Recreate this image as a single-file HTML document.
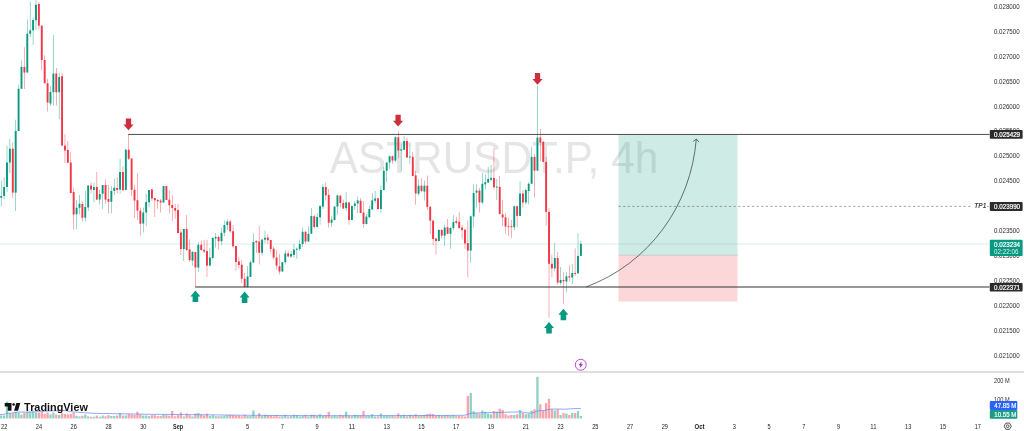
<!DOCTYPE html>
<html lang="en"><head><meta charset="utf-8"><title>ASTRUSDT.P 4h chart</title>
<style>html,body{margin:0;padding:0;background:#fff;overflow:hidden}body{width:1024px;height:431px}svg{display:block;font-family:"Liberation Sans",sans-serif}</style></head><body>
<svg width="1024" height="431" viewBox="0 0 1024 431">
<rect width="1024" height="431" fill="#fff"/>
<text x="494" y="172.5" font-size="44.4" text-anchor="middle" fill="#e5e5e5" textLength="328.4" lengthAdjust="spacingAndGlyphs">ASTRUSDT.P, 4h</text>
<rect x="0" y="371.45" width="1024" height="1.1" fill="#c6c6c6"/>
<g id="vol">
<rect x="0.05" y="415.50" width="2.3" height="3.00" fill="rgba(8,153,129,0.45)"/>
<rect x="2.95" y="415.50" width="2.3" height="3.00" fill="rgba(8,153,129,0.45)"/>
<rect x="5.85" y="401.50" width="2.3" height="17.00" fill="rgba(8,153,129,0.45)"/>
<rect x="8.75" y="413.25" width="2.3" height="5.25" fill="rgba(8,153,129,0.45)"/>
<rect x="11.65" y="413.25" width="2.3" height="5.25" fill="rgba(242,54,69,0.45)"/>
<rect x="14.54" y="412.00" width="2.3" height="6.50" fill="rgba(8,153,129,0.45)"/>
<rect x="17.44" y="412.60" width="2.3" height="5.90" fill="rgba(8,153,129,0.45)"/>
<rect x="20.34" y="414.50" width="2.3" height="4.00" fill="rgba(8,153,129,0.45)"/>
<rect x="23.24" y="412.60" width="2.3" height="5.90" fill="rgba(242,54,69,0.45)"/>
<rect x="26.14" y="412.00" width="2.3" height="6.50" fill="rgba(8,153,129,0.45)"/>
<rect x="29.04" y="412.00" width="2.3" height="6.50" fill="rgba(8,153,129,0.45)"/>
<rect x="31.94" y="411.50" width="2.3" height="7.00" fill="rgba(8,153,129,0.45)"/>
<rect x="34.83" y="412.60" width="2.3" height="5.90" fill="rgba(8,153,129,0.45)"/>
<rect x="37.73" y="412.60" width="2.3" height="5.90" fill="rgba(242,54,69,0.45)"/>
<rect x="40.63" y="412.00" width="2.3" height="6.50" fill="rgba(242,54,69,0.45)"/>
<rect x="43.53" y="413.90" width="2.3" height="4.60" fill="rgba(242,54,69,0.45)"/>
<rect x="46.43" y="412.60" width="2.3" height="5.90" fill="rgba(242,54,69,0.45)"/>
<rect x="49.33" y="414.50" width="2.3" height="4.00" fill="rgba(8,153,129,0.45)"/>
<rect x="52.22" y="412.60" width="2.3" height="5.90" fill="rgba(8,153,129,0.45)"/>
<rect x="55.12" y="414.50" width="2.3" height="4.00" fill="rgba(242,54,69,0.45)"/>
<rect x="58.02" y="415.10" width="2.3" height="3.40" fill="rgba(8,153,129,0.45)"/>
<rect x="60.92" y="413.25" width="2.3" height="5.25" fill="rgba(242,54,69,0.45)"/>
<rect x="63.82" y="413.90" width="2.3" height="4.60" fill="rgba(242,54,69,0.45)"/>
<rect x="66.72" y="414.50" width="2.3" height="4.00" fill="rgba(242,54,69,0.45)"/>
<rect x="69.62" y="413.90" width="2.3" height="4.60" fill="rgba(242,54,69,0.45)"/>
<rect x="72.51" y="412.60" width="2.3" height="5.90" fill="rgba(242,54,69,0.45)"/>
<rect x="75.41" y="415.75" width="2.3" height="2.75" fill="rgba(8,153,129,0.45)"/>
<rect x="78.31" y="416.40" width="2.3" height="2.10" fill="rgba(8,153,129,0.45)"/>
<rect x="81.21" y="415.75" width="2.3" height="2.75" fill="rgba(242,54,69,0.45)"/>
<rect x="84.11" y="414.50" width="2.3" height="4.00" fill="rgba(8,153,129,0.45)"/>
<rect x="87.01" y="416.40" width="2.3" height="2.10" fill="rgba(8,153,129,0.45)"/>
<rect x="89.90" y="416.75" width="2.3" height="1.75" fill="rgba(242,54,69,0.45)"/>
<rect x="92.80" y="416.75" width="2.3" height="1.75" fill="rgba(8,153,129,0.45)"/>
<rect x="95.70" y="415.50" width="2.3" height="3.00" fill="rgba(242,54,69,0.45)"/>
<rect x="98.60" y="416.75" width="2.3" height="1.75" fill="rgba(8,153,129,0.45)"/>
<rect x="101.50" y="415.50" width="2.3" height="3.00" fill="rgba(8,153,129,0.45)"/>
<rect x="104.40" y="416.40" width="2.3" height="2.10" fill="rgba(242,54,69,0.45)"/>
<rect x="107.30" y="415.10" width="2.3" height="3.40" fill="rgba(242,54,69,0.45)"/>
<rect x="110.19" y="416.00" width="2.3" height="2.50" fill="rgba(8,153,129,0.45)"/>
<rect x="113.09" y="416.00" width="2.3" height="2.50" fill="rgba(8,153,129,0.45)"/>
<rect x="115.99" y="415.50" width="2.3" height="3.00" fill="rgba(242,54,69,0.45)"/>
<rect x="118.89" y="413.00" width="2.3" height="5.50" fill="rgba(8,153,129,0.45)"/>
<rect x="121.79" y="415.50" width="2.3" height="3.00" fill="rgba(242,54,69,0.45)"/>
<rect x="124.69" y="415.50" width="2.3" height="3.00" fill="rgba(8,153,129,0.45)"/>
<rect x="127.59" y="413.90" width="2.3" height="4.60" fill="rgba(242,54,69,0.45)"/>
<rect x="130.48" y="414.50" width="2.3" height="4.00" fill="rgba(242,54,69,0.45)"/>
<rect x="133.38" y="415.00" width="2.3" height="3.50" fill="rgba(242,54,69,0.45)"/>
<rect x="136.28" y="411.75" width="2.3" height="6.75" fill="rgba(242,54,69,0.45)"/>
<rect x="139.18" y="414.50" width="2.3" height="4.00" fill="rgba(242,54,69,0.45)"/>
<rect x="142.08" y="415.50" width="2.3" height="3.00" fill="rgba(8,153,129,0.45)"/>
<rect x="144.98" y="415.50" width="2.3" height="3.00" fill="rgba(8,153,129,0.45)"/>
<rect x="147.87" y="416.10" width="2.3" height="2.40" fill="rgba(8,153,129,0.45)"/>
<rect x="150.77" y="415.20" width="2.3" height="3.30" fill="rgba(242,54,69,0.45)"/>
<rect x="153.67" y="415.20" width="2.3" height="3.30" fill="rgba(242,54,69,0.45)"/>
<rect x="156.57" y="416.10" width="2.3" height="2.40" fill="rgba(242,54,69,0.45)"/>
<rect x="159.47" y="415.90" width="2.3" height="2.60" fill="rgba(242,54,69,0.45)"/>
<rect x="162.37" y="414.40" width="2.3" height="4.10" fill="rgba(8,153,129,0.45)"/>
<rect x="165.27" y="415.20" width="2.3" height="3.30" fill="rgba(242,54,69,0.45)"/>
<rect x="168.16" y="415.60" width="2.3" height="2.90" fill="rgba(242,54,69,0.45)"/>
<rect x="171.06" y="411.00" width="2.3" height="7.50" fill="rgba(242,54,69,0.45)"/>
<rect x="173.96" y="416.30" width="2.3" height="2.20" fill="rgba(242,54,69,0.45)"/>
<rect x="176.86" y="415.20" width="2.3" height="3.30" fill="rgba(242,54,69,0.45)"/>
<rect x="179.76" y="412.50" width="2.3" height="6.00" fill="rgba(242,54,69,0.45)"/>
<rect x="182.66" y="416.50" width="2.3" height="2.00" fill="rgba(8,153,129,0.45)"/>
<rect x="185.56" y="413.50" width="2.3" height="5.00" fill="rgba(242,54,69,0.45)"/>
<rect x="188.45" y="415.20" width="2.3" height="3.30" fill="rgba(242,54,69,0.45)"/>
<rect x="191.35" y="416.50" width="2.3" height="2.00" fill="rgba(8,153,129,0.45)"/>
<rect x="194.25" y="413.50" width="2.3" height="5.00" fill="rgba(242,54,69,0.45)"/>
<rect x="197.15" y="413.10" width="2.3" height="5.40" fill="rgba(8,153,129,0.45)"/>
<rect x="200.05" y="414.80" width="2.3" height="3.70" fill="rgba(242,54,69,0.45)"/>
<rect x="202.95" y="415.60" width="2.3" height="2.90" fill="rgba(242,54,69,0.45)"/>
<rect x="205.84" y="413.50" width="2.3" height="5.00" fill="rgba(242,54,69,0.45)"/>
<rect x="208.74" y="415.90" width="2.3" height="2.60" fill="rgba(8,153,129,0.45)"/>
<rect x="211.64" y="415.20" width="2.3" height="3.30" fill="rgba(8,153,129,0.45)"/>
<rect x="214.54" y="416.10" width="2.3" height="2.40" fill="rgba(8,153,129,0.45)"/>
<rect x="217.44" y="416.10" width="2.3" height="2.40" fill="rgba(242,54,69,0.45)"/>
<rect x="220.34" y="416.30" width="2.3" height="2.20" fill="rgba(8,153,129,0.45)"/>
<rect x="223.24" y="415.60" width="2.3" height="2.90" fill="rgba(8,153,129,0.45)"/>
<rect x="226.13" y="415.20" width="2.3" height="3.30" fill="rgba(8,153,129,0.45)"/>
<rect x="229.03" y="414.80" width="2.3" height="3.70" fill="rgba(242,54,69,0.45)"/>
<rect x="231.93" y="415.20" width="2.3" height="3.30" fill="rgba(242,54,69,0.45)"/>
<rect x="234.83" y="415.60" width="2.3" height="2.90" fill="rgba(242,54,69,0.45)"/>
<rect x="237.73" y="415.60" width="2.3" height="2.90" fill="rgba(242,54,69,0.45)"/>
<rect x="240.63" y="416.30" width="2.3" height="2.20" fill="rgba(242,54,69,0.45)"/>
<rect x="243.53" y="414.80" width="2.3" height="3.70" fill="rgba(242,54,69,0.45)"/>
<rect x="246.42" y="416.10" width="2.3" height="2.40" fill="rgba(8,153,129,0.45)"/>
<rect x="249.32" y="416.10" width="2.3" height="2.40" fill="rgba(8,153,129,0.45)"/>
<rect x="252.22" y="410.50" width="2.3" height="8.00" fill="rgba(8,153,129,0.45)"/>
<rect x="255.12" y="416.30" width="2.3" height="2.20" fill="rgba(242,54,69,0.45)"/>
<rect x="258.02" y="413.25" width="2.3" height="5.25" fill="rgba(242,54,69,0.45)"/>
<rect x="260.92" y="416.10" width="2.3" height="2.40" fill="rgba(8,153,129,0.45)"/>
<rect x="263.82" y="414.80" width="2.3" height="3.70" fill="rgba(8,153,129,0.45)"/>
<rect x="266.71" y="415.20" width="2.3" height="3.30" fill="rgba(242,54,69,0.45)"/>
<rect x="269.61" y="415.60" width="2.3" height="2.90" fill="rgba(242,54,69,0.45)"/>
<rect x="272.51" y="416.30" width="2.3" height="2.20" fill="rgba(242,54,69,0.45)"/>
<rect x="275.41" y="415.10" width="2.3" height="3.40" fill="rgba(242,54,69,0.45)"/>
<rect x="278.31" y="416.50" width="2.3" height="2.00" fill="rgba(242,54,69,0.45)"/>
<rect x="281.21" y="416.30" width="2.3" height="2.20" fill="rgba(8,153,129,0.45)"/>
<rect x="284.10" y="414.80" width="2.3" height="3.70" fill="rgba(8,153,129,0.45)"/>
<rect x="287.00" y="416.50" width="2.3" height="2.00" fill="rgba(242,54,69,0.45)"/>
<rect x="289.90" y="416.10" width="2.3" height="2.40" fill="rgba(8,153,129,0.45)"/>
<rect x="292.80" y="414.80" width="2.3" height="3.70" fill="rgba(8,153,129,0.45)"/>
<rect x="295.70" y="415.20" width="2.3" height="3.30" fill="rgba(8,153,129,0.45)"/>
<rect x="298.60" y="416.50" width="2.3" height="2.00" fill="rgba(8,153,129,0.45)"/>
<rect x="301.50" y="415.90" width="2.3" height="2.60" fill="rgba(8,153,129,0.45)"/>
<rect x="304.39" y="414.80" width="2.3" height="3.70" fill="rgba(242,54,69,0.45)"/>
<rect x="307.29" y="416.50" width="2.3" height="2.00" fill="rgba(8,153,129,0.45)"/>
<rect x="310.19" y="414.80" width="2.3" height="3.70" fill="rgba(8,153,129,0.45)"/>
<rect x="313.09" y="414.80" width="2.3" height="3.70" fill="rgba(242,54,69,0.45)"/>
<rect x="315.99" y="415.90" width="2.3" height="2.60" fill="rgba(8,153,129,0.45)"/>
<rect x="318.89" y="414.25" width="2.3" height="4.25" fill="rgba(8,153,129,0.45)"/>
<rect x="321.79" y="415.60" width="2.3" height="2.90" fill="rgba(8,153,129,0.45)"/>
<rect x="324.68" y="415.20" width="2.3" height="3.30" fill="rgba(242,54,69,0.45)"/>
<rect x="327.58" y="411.75" width="2.3" height="6.75" fill="rgba(242,54,69,0.45)"/>
<rect x="330.48" y="416.30" width="2.3" height="2.20" fill="rgba(8,153,129,0.45)"/>
<rect x="333.38" y="415.60" width="2.3" height="2.90" fill="rgba(8,153,129,0.45)"/>
<rect x="336.28" y="416.30" width="2.3" height="2.20" fill="rgba(8,153,129,0.45)"/>
<rect x="339.18" y="414.80" width="2.3" height="3.70" fill="rgba(242,54,69,0.45)"/>
<rect x="342.07" y="415.60" width="2.3" height="2.90" fill="rgba(242,54,69,0.45)"/>
<rect x="344.97" y="411.75" width="2.3" height="6.75" fill="rgba(8,153,129,0.45)"/>
<rect x="347.87" y="415.60" width="2.3" height="2.90" fill="rgba(242,54,69,0.45)"/>
<rect x="350.77" y="416.30" width="2.3" height="2.20" fill="rgba(8,153,129,0.45)"/>
<rect x="353.67" y="414.80" width="2.3" height="3.70" fill="rgba(8,153,129,0.45)"/>
<rect x="356.57" y="415.20" width="2.3" height="3.30" fill="rgba(8,153,129,0.45)"/>
<rect x="359.47" y="415.60" width="2.3" height="2.90" fill="rgba(242,54,69,0.45)"/>
<rect x="362.36" y="411.00" width="2.3" height="7.50" fill="rgba(242,54,69,0.45)"/>
<rect x="365.26" y="416.10" width="2.3" height="2.40" fill="rgba(8,153,129,0.45)"/>
<rect x="368.16" y="415.90" width="2.3" height="2.60" fill="rgba(8,153,129,0.45)"/>
<rect x="371.06" y="414.25" width="2.3" height="4.25" fill="rgba(8,153,129,0.45)"/>
<rect x="373.96" y="416.50" width="2.3" height="2.00" fill="rgba(8,153,129,0.45)"/>
<rect x="376.86" y="416.50" width="2.3" height="2.00" fill="rgba(242,54,69,0.45)"/>
<rect x="379.76" y="413.50" width="2.3" height="5.00" fill="rgba(8,153,129,0.45)"/>
<rect x="382.65" y="416.10" width="2.3" height="2.40" fill="rgba(8,153,129,0.45)"/>
<rect x="385.55" y="415.60" width="2.3" height="2.90" fill="rgba(8,153,129,0.45)"/>
<rect x="388.45" y="416.10" width="2.3" height="2.40" fill="rgba(8,153,129,0.45)"/>
<rect x="391.35" y="415.90" width="2.3" height="2.60" fill="rgba(242,54,69,0.45)"/>
<rect x="394.25" y="416.30" width="2.3" height="2.20" fill="rgba(8,153,129,0.45)"/>
<rect x="397.15" y="413.50" width="2.3" height="5.00" fill="rgba(242,54,69,0.45)"/>
<rect x="400.04" y="415.60" width="2.3" height="2.90" fill="rgba(8,153,129,0.45)"/>
<rect x="402.94" y="414.80" width="2.3" height="3.70" fill="rgba(8,153,129,0.45)"/>
<rect x="405.84" y="416.30" width="2.3" height="2.20" fill="rgba(242,54,69,0.45)"/>
<rect x="408.74" y="414.80" width="2.3" height="3.70" fill="rgba(8,153,129,0.45)"/>
<rect x="411.64" y="415.90" width="2.3" height="2.60" fill="rgba(242,54,69,0.45)"/>
<rect x="414.54" y="414.25" width="2.3" height="4.25" fill="rgba(242,54,69,0.45)"/>
<rect x="417.44" y="415.60" width="2.3" height="2.90" fill="rgba(8,153,129,0.45)"/>
<rect x="420.33" y="415.20" width="2.3" height="3.30" fill="rgba(242,54,69,0.45)"/>
<rect x="423.23" y="414.80" width="2.3" height="3.70" fill="rgba(8,153,129,0.45)"/>
<rect x="426.13" y="414.00" width="2.3" height="4.50" fill="rgba(242,54,69,0.45)"/>
<rect x="429.03" y="413.50" width="2.3" height="5.00" fill="rgba(242,54,69,0.45)"/>
<rect x="431.93" y="414.00" width="2.3" height="4.50" fill="rgba(242,54,69,0.45)"/>
<rect x="434.83" y="415.60" width="2.3" height="2.90" fill="rgba(242,54,69,0.45)"/>
<rect x="437.73" y="415.20" width="2.3" height="3.30" fill="rgba(8,153,129,0.45)"/>
<rect x="440.62" y="415.90" width="2.3" height="2.60" fill="rgba(242,54,69,0.45)"/>
<rect x="443.52" y="415.20" width="2.3" height="3.30" fill="rgba(8,153,129,0.45)"/>
<rect x="446.42" y="415.20" width="2.3" height="3.30" fill="rgba(242,54,69,0.45)"/>
<rect x="449.32" y="415.60" width="2.3" height="2.90" fill="rgba(8,153,129,0.45)"/>
<rect x="452.22" y="415.20" width="2.3" height="3.30" fill="rgba(8,153,129,0.45)"/>
<rect x="455.12" y="416.10" width="2.3" height="2.40" fill="rgba(242,54,69,0.45)"/>
<rect x="458.01" y="415.90" width="2.3" height="2.60" fill="rgba(242,54,69,0.45)"/>
<rect x="460.91" y="416.30" width="2.3" height="2.20" fill="rgba(242,54,69,0.45)"/>
<rect x="463.81" y="416.50" width="2.3" height="2.00" fill="rgba(242,54,69,0.45)"/>
<rect x="466.71" y="396.00" width="2.3" height="22.50" fill="rgba(242,54,69,0.45)"/>
<rect x="469.61" y="393.00" width="2.3" height="25.50" fill="rgba(8,153,129,0.45)"/>
<rect x="472.51" y="411.25" width="2.3" height="7.25" fill="rgba(8,153,129,0.45)"/>
<rect x="475.41" y="413.00" width="2.3" height="5.50" fill="rgba(8,153,129,0.45)"/>
<rect x="478.30" y="413.50" width="2.3" height="5.00" fill="rgba(242,54,69,0.45)"/>
<rect x="481.20" y="410.50" width="2.3" height="8.00" fill="rgba(8,153,129,0.45)"/>
<rect x="484.10" y="411.75" width="2.3" height="6.75" fill="rgba(8,153,129,0.45)"/>
<rect x="487.00" y="413.50" width="2.3" height="5.00" fill="rgba(8,153,129,0.45)"/>
<rect x="489.90" y="414.25" width="2.3" height="4.25" fill="rgba(8,153,129,0.45)"/>
<rect x="492.80" y="411.00" width="2.3" height="7.50" fill="rgba(242,54,69,0.45)"/>
<rect x="495.69" y="411.75" width="2.3" height="6.75" fill="rgba(8,153,129,0.45)"/>
<rect x="498.59" y="408.75" width="2.3" height="9.75" fill="rgba(242,54,69,0.45)"/>
<rect x="501.49" y="410.00" width="2.3" height="8.50" fill="rgba(242,54,69,0.45)"/>
<rect x="504.39" y="414.25" width="2.3" height="4.25" fill="rgba(242,54,69,0.45)"/>
<rect x="507.29" y="415.50" width="2.3" height="3.00" fill="rgba(242,54,69,0.45)"/>
<rect x="510.19" y="415.00" width="2.3" height="3.50" fill="rgba(242,54,69,0.45)"/>
<rect x="513.09" y="415.00" width="2.3" height="3.50" fill="rgba(8,153,129,0.45)"/>
<rect x="515.98" y="414.25" width="2.3" height="4.25" fill="rgba(242,54,69,0.45)"/>
<rect x="518.88" y="410.00" width="2.3" height="8.50" fill="rgba(8,153,129,0.45)"/>
<rect x="521.78" y="413.00" width="2.3" height="5.50" fill="rgba(242,54,69,0.45)"/>
<rect x="524.68" y="414.25" width="2.3" height="4.25" fill="rgba(8,153,129,0.45)"/>
<rect x="527.58" y="413.50" width="2.3" height="5.00" fill="rgba(8,153,129,0.45)"/>
<rect x="530.48" y="410.50" width="2.3" height="8.00" fill="rgba(8,153,129,0.45)"/>
<rect x="533.38" y="409.25" width="2.3" height="9.25" fill="rgba(242,54,69,0.45)"/>
<rect x="536.27" y="376.75" width="2.3" height="41.75" fill="rgba(8,153,129,0.45)"/>
<rect x="539.17" y="404.25" width="2.3" height="14.25" fill="rgba(242,54,69,0.45)"/>
<rect x="542.07" y="411.00" width="2.3" height="7.50" fill="rgba(242,54,69,0.45)"/>
<rect x="544.97" y="403.00" width="2.3" height="15.50" fill="rgba(242,54,69,0.45)"/>
<rect x="547.87" y="398.75" width="2.3" height="19.75" fill="rgba(242,54,69,0.45)"/>
<rect x="550.77" y="409.25" width="2.3" height="9.25" fill="rgba(242,54,69,0.45)"/>
<rect x="553.66" y="410.50" width="2.3" height="8.00" fill="rgba(8,153,129,0.45)"/>
<rect x="556.56" y="409.25" width="2.3" height="9.25" fill="rgba(242,54,69,0.45)"/>
<rect x="559.46" y="415.00" width="2.3" height="3.50" fill="rgba(8,153,129,0.45)"/>
<rect x="562.36" y="413.00" width="2.3" height="5.50" fill="rgba(242,54,69,0.45)"/>
<rect x="565.26" y="413.50" width="2.3" height="5.00" fill="rgba(8,153,129,0.45)"/>
<rect x="568.16" y="415.00" width="2.3" height="3.50" fill="rgba(242,54,69,0.45)"/>
<rect x="571.06" y="413.00" width="2.3" height="5.50" fill="rgba(8,153,129,0.45)"/>
<rect x="573.95" y="413.00" width="2.3" height="5.50" fill="rgba(242,54,69,0.45)"/>
<rect x="576.85" y="411.00" width="2.3" height="7.50" fill="rgba(8,153,129,0.45)"/>
<rect x="579.75" y="416.00" width="2.3" height="2.50" fill="rgba(8,153,129,0.45)"/>
</g>
<polyline fill="none" stroke="#6384f6" stroke-width="0.7" points="0,414.6 5,414.2 5.8,413.3 11,413.2 17,412.1 30,412 40,411.6 50,411 60,410.5 66,410.6 72,411.8 80,412.4 94,413.3 150,414.3 200,414.7 240,415.2 288,415.6 350,415.7 448,415.4 464,415.3 467,414.6 471,413.2 480,412.8 500,412.4 521,411.9 526,412.8 532,413 536,411.5 538,410.9 545,410.4 549.6,409.2 556,409 565,409.2 575,408.6 580.8,408.4"/>
<line x1="0" y1="244.1" x2="989" y2="244.1" stroke="#089981" stroke-opacity="0.36" stroke-width="0.55" stroke-dasharray="0.75 0.25"/>
<g id="candles">
<rect x="0.95" y="180.40" width="0.5" height="26.10" fill="#089981" fill-opacity="0.8"/>
<rect x="0.25" y="196.00" width="1.9" height="1.75" fill="#089981"/>
<rect x="3.85" y="177.50" width="0.5" height="22.10" fill="#089981" fill-opacity="0.8"/>
<rect x="3.15" y="187.00" width="1.9" height="9.00" fill="#089981"/>
<rect x="6.75" y="145.60" width="0.5" height="46.40" fill="#089981" fill-opacity="0.8"/>
<rect x="6.05" y="162.50" width="1.9" height="24.50" fill="#089981"/>
<rect x="9.65" y="139.00" width="0.5" height="34.00" fill="#089981" fill-opacity="0.8"/>
<rect x="8.95" y="148.75" width="1.9" height="13.75" fill="#089981"/>
<rect x="12.55" y="142.50" width="0.5" height="55.25" fill="#f23645" fill-opacity="0.8"/>
<rect x="11.85" y="148.75" width="1.9" height="43.85" fill="#f23645"/>
<rect x="15.44" y="119.75" width="0.5" height="91.25" fill="#089981" fill-opacity="0.8"/>
<rect x="14.74" y="131.00" width="1.9" height="61.60" fill="#089981"/>
<rect x="18.34" y="84.75" width="0.5" height="46.25" fill="#089981" fill-opacity="0.8"/>
<rect x="17.64" y="88.75" width="1.9" height="42.25" fill="#089981"/>
<rect x="21.24" y="60.40" width="0.5" height="28.35" fill="#089981" fill-opacity="0.8"/>
<rect x="20.54" y="67.00" width="1.9" height="21.75" fill="#089981"/>
<rect x="24.14" y="47.25" width="0.5" height="41.75" fill="#f23645" fill-opacity="0.8"/>
<rect x="23.44" y="67.00" width="1.9" height="5.50" fill="#f23645"/>
<rect x="27.04" y="19.40" width="0.5" height="53.10" fill="#089981" fill-opacity="0.8"/>
<rect x="26.34" y="33.75" width="1.9" height="38.75" fill="#089981"/>
<rect x="29.94" y="1.50" width="0.5" height="35.50" fill="#089981" fill-opacity="0.8"/>
<rect x="29.24" y="30.40" width="1.9" height="3.35" fill="#089981"/>
<rect x="32.84" y="17.50" width="0.5" height="27.25" fill="#089981" fill-opacity="0.8"/>
<rect x="32.13" y="20.00" width="1.9" height="10.40" fill="#089981"/>
<rect x="35.73" y="0.00" width="0.5" height="30.00" fill="#089981" fill-opacity="0.8"/>
<rect x="35.03" y="4.75" width="1.9" height="15.50" fill="#089981"/>
<rect x="38.63" y="2.00" width="0.5" height="27.40" fill="#f23645" fill-opacity="0.8"/>
<rect x="37.93" y="4.00" width="1.9" height="21.60" fill="#f23645"/>
<rect x="41.53" y="25.60" width="0.5" height="44.80" fill="#f23645" fill-opacity="0.8"/>
<rect x="40.83" y="25.60" width="1.9" height="34.40" fill="#f23645"/>
<rect x="44.43" y="55.40" width="0.5" height="27.85" fill="#f23645" fill-opacity="0.8"/>
<rect x="43.73" y="60.00" width="1.9" height="23.25" fill="#f23645"/>
<rect x="47.33" y="78.75" width="0.5" height="32.75" fill="#f23645" fill-opacity="0.8"/>
<rect x="46.63" y="83.25" width="1.9" height="19.25" fill="#f23645"/>
<rect x="50.23" y="86.00" width="0.5" height="20.00" fill="#089981" fill-opacity="0.8"/>
<rect x="49.53" y="92.00" width="1.9" height="11.50" fill="#089981"/>
<rect x="53.12" y="35.00" width="0.5" height="70.60" fill="#089981" fill-opacity="0.8"/>
<rect x="52.42" y="73.50" width="1.9" height="18.75" fill="#089981"/>
<rect x="56.02" y="68.00" width="0.5" height="37.60" fill="#f23645" fill-opacity="0.8"/>
<rect x="55.32" y="73.50" width="1.9" height="18.75" fill="#f23645"/>
<rect x="58.92" y="72.50" width="0.5" height="46.50" fill="#089981" fill-opacity="0.8"/>
<rect x="58.22" y="77.00" width="1.9" height="15.25" fill="#089981"/>
<rect x="61.82" y="73.00" width="0.5" height="72.60" fill="#f23645" fill-opacity="0.8"/>
<rect x="61.12" y="76.25" width="1.9" height="69.35" fill="#f23645"/>
<rect x="64.72" y="134.40" width="0.5" height="28.60" fill="#f23645" fill-opacity="0.8"/>
<rect x="64.02" y="145.60" width="1.9" height="5.00" fill="#f23645"/>
<rect x="67.62" y="141.00" width="0.5" height="21.75" fill="#f23645" fill-opacity="0.8"/>
<rect x="66.92" y="150.00" width="1.9" height="12.75" fill="#f23645"/>
<rect x="70.52" y="152.00" width="0.5" height="41.00" fill="#f23645" fill-opacity="0.8"/>
<rect x="69.82" y="162.50" width="1.9" height="30.50" fill="#f23645"/>
<rect x="73.41" y="187.75" width="0.5" height="42.25" fill="#f23645" fill-opacity="0.8"/>
<rect x="72.71" y="192.00" width="1.9" height="22.60" fill="#f23645"/>
<rect x="76.31" y="200.00" width="0.5" height="29.00" fill="#089981" fill-opacity="0.8"/>
<rect x="75.61" y="207.75" width="1.9" height="6.50" fill="#089981"/>
<rect x="79.21" y="195.00" width="0.5" height="19.60" fill="#089981" fill-opacity="0.8"/>
<rect x="78.51" y="203.75" width="1.9" height="4.00" fill="#089981"/>
<rect x="82.11" y="201.50" width="0.5" height="20.00" fill="#f23645" fill-opacity="0.8"/>
<rect x="81.41" y="204.00" width="1.9" height="13.75" fill="#f23645"/>
<rect x="85.01" y="190.60" width="0.5" height="30.90" fill="#089981" fill-opacity="0.8"/>
<rect x="84.31" y="207.00" width="1.9" height="10.75" fill="#089981"/>
<rect x="87.91" y="185.50" width="0.5" height="25.50" fill="#089981" fill-opacity="0.8"/>
<rect x="87.21" y="185.50" width="1.9" height="22.00" fill="#089981"/>
<rect x="90.80" y="182.50" width="0.5" height="10.90" fill="#f23645" fill-opacity="0.8"/>
<rect x="90.10" y="185.50" width="1.9" height="4.10" fill="#f23645"/>
<rect x="93.70" y="183.00" width="0.5" height="19.50" fill="#089981" fill-opacity="0.8"/>
<rect x="93.00" y="187.00" width="1.9" height="3.00" fill="#089981"/>
<rect x="96.60" y="172.00" width="0.5" height="27.60" fill="#f23645" fill-opacity="0.8"/>
<rect x="95.90" y="187.00" width="1.9" height="12.60" fill="#f23645"/>
<rect x="99.50" y="190.00" width="0.5" height="14.60" fill="#089981" fill-opacity="0.8"/>
<rect x="98.80" y="194.00" width="1.9" height="5.60" fill="#089981"/>
<rect x="102.40" y="185.00" width="0.5" height="24.00" fill="#089981" fill-opacity="0.8"/>
<rect x="101.70" y="185.00" width="1.9" height="8.75" fill="#089981"/>
<rect x="105.30" y="179.40" width="0.5" height="24.35" fill="#f23645" fill-opacity="0.8"/>
<rect x="104.60" y="185.00" width="1.9" height="14.60" fill="#f23645"/>
<rect x="108.20" y="185.00" width="0.5" height="28.40" fill="#f23645" fill-opacity="0.8"/>
<rect x="107.50" y="199.00" width="1.9" height="2.75" fill="#f23645"/>
<rect x="111.09" y="186.00" width="0.5" height="27.40" fill="#089981" fill-opacity="0.8"/>
<rect x="110.39" y="191.00" width="1.9" height="10.75" fill="#089981"/>
<rect x="113.99" y="178.75" width="0.5" height="16.25" fill="#089981" fill-opacity="0.8"/>
<rect x="113.29" y="187.75" width="1.9" height="3.25" fill="#089981"/>
<rect x="116.89" y="177.00" width="0.5" height="16.40" fill="#f23645" fill-opacity="0.8"/>
<rect x="116.19" y="188.00" width="1.9" height="2.00" fill="#f23645"/>
<rect x="119.79" y="158.75" width="0.5" height="34.65" fill="#089981" fill-opacity="0.8"/>
<rect x="119.09" y="172.00" width="1.9" height="17.60" fill="#089981"/>
<rect x="122.69" y="166.00" width="0.5" height="24.25" fill="#f23645" fill-opacity="0.8"/>
<rect x="121.99" y="172.00" width="1.9" height="18.25" fill="#f23645"/>
<rect x="125.59" y="149.00" width="0.5" height="41.00" fill="#089981" fill-opacity="0.8"/>
<rect x="124.89" y="149.75" width="1.9" height="40.25" fill="#089981"/>
<rect x="128.49" y="134.50" width="0.5" height="25.50" fill="#f23645" fill-opacity="0.8"/>
<rect x="127.79" y="149.75" width="1.9" height="9.00" fill="#f23645"/>
<rect x="131.38" y="158.50" width="0.5" height="37.50" fill="#f23645" fill-opacity="0.8"/>
<rect x="130.68" y="158.50" width="1.9" height="31.25" fill="#f23645"/>
<rect x="134.28" y="185.00" width="0.5" height="33.00" fill="#f23645" fill-opacity="0.8"/>
<rect x="133.58" y="189.75" width="1.9" height="10.85" fill="#f23645"/>
<rect x="137.18" y="173.00" width="0.5" height="47.00" fill="#f23645" fill-opacity="0.8"/>
<rect x="136.48" y="200.25" width="1.9" height="10.35" fill="#f23645"/>
<rect x="140.08" y="207.50" width="0.5" height="28.10" fill="#f23645" fill-opacity="0.8"/>
<rect x="139.38" y="210.60" width="1.9" height="13.15" fill="#f23645"/>
<rect x="142.98" y="207.50" width="0.5" height="25.00" fill="#089981" fill-opacity="0.8"/>
<rect x="142.28" y="212.50" width="1.9" height="11.00" fill="#089981"/>
<rect x="145.88" y="193.75" width="0.5" height="32.50" fill="#089981" fill-opacity="0.8"/>
<rect x="145.18" y="201.90" width="1.9" height="10.60" fill="#089981"/>
<rect x="148.77" y="190.00" width="0.5" height="17.50" fill="#089981" fill-opacity="0.8"/>
<rect x="148.07" y="190.00" width="1.9" height="12.25" fill="#089981"/>
<rect x="151.67" y="189.40" width="0.5" height="11.60" fill="#f23645" fill-opacity="0.8"/>
<rect x="150.97" y="189.40" width="1.9" height="9.10" fill="#f23645"/>
<rect x="154.57" y="198.00" width="0.5" height="19.00" fill="#f23645" fill-opacity="0.8"/>
<rect x="153.87" y="198.00" width="1.9" height="2.25" fill="#f23645"/>
<rect x="157.47" y="199.00" width="0.5" height="9.75" fill="#f23645" fill-opacity="0.8"/>
<rect x="156.77" y="200.00" width="1.9" height="1.25" fill="#f23645"/>
<rect x="160.37" y="199.00" width="0.5" height="13.50" fill="#f23645" fill-opacity="0.8"/>
<rect x="159.67" y="200.60" width="1.9" height="1.90" fill="#f23645"/>
<rect x="163.27" y="186.00" width="0.5" height="17.00" fill="#089981" fill-opacity="0.8"/>
<rect x="162.57" y="186.00" width="1.9" height="16.50" fill="#089981"/>
<rect x="166.17" y="186.00" width="0.5" height="14.00" fill="#f23645" fill-opacity="0.8"/>
<rect x="165.47" y="186.00" width="1.9" height="14.00" fill="#f23645"/>
<rect x="169.06" y="190.60" width="0.5" height="23.15" fill="#f23645" fill-opacity="0.8"/>
<rect x="168.36" y="199.75" width="1.9" height="5.50" fill="#f23645"/>
<rect x="171.96" y="195.00" width="0.5" height="26.00" fill="#f23645" fill-opacity="0.8"/>
<rect x="171.26" y="205.00" width="1.9" height="3.00" fill="#f23645"/>
<rect x="174.86" y="203.75" width="0.5" height="15.00" fill="#f23645" fill-opacity="0.8"/>
<rect x="174.16" y="208.00" width="1.9" height="2.60" fill="#f23645"/>
<rect x="177.76" y="204.00" width="0.5" height="29.00" fill="#f23645" fill-opacity="0.8"/>
<rect x="177.06" y="210.00" width="1.9" height="23.00" fill="#f23645"/>
<rect x="180.66" y="229.00" width="0.5" height="26.00" fill="#f23645" fill-opacity="0.8"/>
<rect x="179.96" y="232.50" width="1.9" height="16.50" fill="#f23645"/>
<rect x="183.56" y="229.00" width="0.5" height="32.00" fill="#089981" fill-opacity="0.8"/>
<rect x="182.86" y="229.00" width="1.9" height="20.00" fill="#089981"/>
<rect x="186.46" y="215.00" width="0.5" height="36.00" fill="#f23645" fill-opacity="0.8"/>
<rect x="185.76" y="229.00" width="1.9" height="21.00" fill="#f23645"/>
<rect x="189.35" y="239.40" width="0.5" height="22.60" fill="#f23645" fill-opacity="0.8"/>
<rect x="188.65" y="249.40" width="1.9" height="10.60" fill="#f23645"/>
<rect x="192.25" y="251.00" width="0.5" height="15.00" fill="#089981" fill-opacity="0.8"/>
<rect x="191.55" y="252.00" width="1.9" height="8.60" fill="#089981"/>
<rect x="195.15" y="252.00" width="0.5" height="35.00" fill="#f23645" fill-opacity="0.8"/>
<rect x="194.45" y="252.00" width="1.9" height="15.50" fill="#f23645"/>
<rect x="198.05" y="241.90" width="0.5" height="30.10" fill="#089981" fill-opacity="0.8"/>
<rect x="197.35" y="244.75" width="1.9" height="22.75" fill="#089981"/>
<rect x="200.95" y="240.60" width="0.5" height="10.40" fill="#f23645" fill-opacity="0.8"/>
<rect x="200.25" y="244.75" width="1.9" height="5.25" fill="#f23645"/>
<rect x="203.85" y="240.00" width="0.5" height="13.00" fill="#f23645" fill-opacity="0.8"/>
<rect x="203.15" y="249.75" width="1.9" height="1.75" fill="#f23645"/>
<rect x="206.74" y="239.75" width="0.5" height="37.25" fill="#f23645" fill-opacity="0.8"/>
<rect x="206.04" y="251.00" width="1.9" height="14.60" fill="#f23645"/>
<rect x="209.64" y="248.00" width="0.5" height="18.00" fill="#089981" fill-opacity="0.8"/>
<rect x="208.94" y="257.50" width="1.9" height="8.10" fill="#089981"/>
<rect x="212.54" y="237.00" width="0.5" height="22.40" fill="#089981" fill-opacity="0.8"/>
<rect x="211.84" y="238.00" width="1.9" height="20.00" fill="#089981"/>
<rect x="215.44" y="233.00" width="0.5" height="14.50" fill="#089981" fill-opacity="0.8"/>
<rect x="214.74" y="236.90" width="1.9" height="1.60" fill="#089981"/>
<rect x="218.34" y="235.60" width="0.5" height="13.80" fill="#f23645" fill-opacity="0.8"/>
<rect x="217.64" y="236.90" width="1.9" height="4.35" fill="#f23645"/>
<rect x="221.24" y="227.50" width="0.5" height="17.50" fill="#089981" fill-opacity="0.8"/>
<rect x="220.54" y="232.75" width="1.9" height="8.50" fill="#089981"/>
<rect x="224.14" y="220.60" width="0.5" height="15.65" fill="#089981" fill-opacity="0.8"/>
<rect x="223.44" y="225.00" width="1.9" height="7.75" fill="#089981"/>
<rect x="227.03" y="219.40" width="0.5" height="10.60" fill="#089981" fill-opacity="0.8"/>
<rect x="226.33" y="221.50" width="1.9" height="3.50" fill="#089981"/>
<rect x="229.93" y="220.00" width="0.5" height="13.00" fill="#f23645" fill-opacity="0.8"/>
<rect x="229.23" y="221.50" width="1.9" height="9.75" fill="#f23645"/>
<rect x="232.83" y="225.00" width="0.5" height="23.00" fill="#f23645" fill-opacity="0.8"/>
<rect x="232.13" y="231.25" width="1.9" height="15.00" fill="#f23645"/>
<rect x="235.73" y="246.00" width="0.5" height="24.60" fill="#f23645" fill-opacity="0.8"/>
<rect x="235.03" y="246.00" width="1.9" height="16.00" fill="#f23645"/>
<rect x="238.63" y="256.90" width="0.5" height="11.85" fill="#f23645" fill-opacity="0.8"/>
<rect x="237.93" y="261.50" width="1.9" height="3.50" fill="#f23645"/>
<rect x="241.53" y="260.00" width="0.5" height="23.00" fill="#f23645" fill-opacity="0.8"/>
<rect x="240.83" y="264.75" width="1.9" height="14.00" fill="#f23645"/>
<rect x="244.43" y="273.00" width="0.5" height="14.50" fill="#f23645" fill-opacity="0.8"/>
<rect x="243.73" y="278.75" width="1.9" height="8.25" fill="#f23645"/>
<rect x="247.32" y="266.00" width="0.5" height="21.50" fill="#089981" fill-opacity="0.8"/>
<rect x="246.62" y="276.50" width="1.9" height="10.50" fill="#089981"/>
<rect x="250.22" y="260.60" width="0.5" height="16.40" fill="#089981" fill-opacity="0.8"/>
<rect x="249.52" y="262.25" width="1.9" height="14.65" fill="#089981"/>
<rect x="253.12" y="233.40" width="0.5" height="29.60" fill="#089981" fill-opacity="0.8"/>
<rect x="252.42" y="242.00" width="1.9" height="20.50" fill="#089981"/>
<rect x="256.02" y="240.25" width="0.5" height="12.50" fill="#f23645" fill-opacity="0.8"/>
<rect x="255.32" y="241.00" width="1.9" height="1.50" fill="#f23645"/>
<rect x="258.92" y="226.25" width="0.5" height="38.15" fill="#f23645" fill-opacity="0.8"/>
<rect x="258.22" y="241.50" width="1.9" height="11.25" fill="#f23645"/>
<rect x="261.82" y="239.00" width="0.5" height="16.60" fill="#089981" fill-opacity="0.8"/>
<rect x="261.12" y="239.60" width="1.9" height="13.15" fill="#089981"/>
<rect x="264.72" y="230.90" width="0.5" height="12.50" fill="#089981" fill-opacity="0.8"/>
<rect x="264.02" y="237.75" width="1.9" height="1.85" fill="#089981"/>
<rect x="267.61" y="234.00" width="0.5" height="10.00" fill="#f23645" fill-opacity="0.8"/>
<rect x="266.91" y="237.50" width="1.9" height="2.75" fill="#f23645"/>
<rect x="270.51" y="240.00" width="0.5" height="12.75" fill="#f23645" fill-opacity="0.8"/>
<rect x="269.81" y="240.00" width="1.9" height="9.00" fill="#f23645"/>
<rect x="273.41" y="246.50" width="0.5" height="12.90" fill="#f23645" fill-opacity="0.8"/>
<rect x="272.71" y="248.75" width="1.9" height="8.75" fill="#f23645"/>
<rect x="276.31" y="250.00" width="0.5" height="19.40" fill="#f23645" fill-opacity="0.8"/>
<rect x="275.61" y="257.50" width="1.9" height="8.10" fill="#f23645"/>
<rect x="279.21" y="253.75" width="0.5" height="20.65" fill="#f23645" fill-opacity="0.8"/>
<rect x="278.51" y="266.25" width="1.9" height="5.25" fill="#f23645"/>
<rect x="282.11" y="262.00" width="0.5" height="10.00" fill="#089981" fill-opacity="0.8"/>
<rect x="281.41" y="262.25" width="1.9" height="9.25" fill="#089981"/>
<rect x="285.00" y="250.25" width="0.5" height="14.15" fill="#089981" fill-opacity="0.8"/>
<rect x="284.30" y="253.40" width="1.9" height="8.85" fill="#089981"/>
<rect x="287.90" y="251.00" width="0.5" height="6.00" fill="#f23645" fill-opacity="0.8"/>
<rect x="287.20" y="253.40" width="1.9" height="3.10" fill="#f23645"/>
<rect x="290.80" y="251.00" width="0.5" height="7.00" fill="#089981" fill-opacity="0.8"/>
<rect x="290.10" y="254.00" width="1.9" height="2.50" fill="#089981"/>
<rect x="293.70" y="244.00" width="0.5" height="13.50" fill="#089981" fill-opacity="0.8"/>
<rect x="293.00" y="249.60" width="1.9" height="5.40" fill="#089981"/>
<rect x="296.60" y="247.75" width="0.5" height="11.00" fill="#089981" fill-opacity="0.8"/>
<rect x="295.90" y="248.75" width="1.9" height="1.00" fill="#089981"/>
<rect x="299.50" y="239.60" width="0.5" height="11.40" fill="#089981" fill-opacity="0.8"/>
<rect x="298.80" y="244.00" width="1.9" height="5.00" fill="#089981"/>
<rect x="302.40" y="227.75" width="0.5" height="19.25" fill="#089981" fill-opacity="0.8"/>
<rect x="301.70" y="231.75" width="1.9" height="12.25" fill="#089981"/>
<rect x="305.29" y="231.00" width="0.5" height="13.00" fill="#f23645" fill-opacity="0.8"/>
<rect x="304.59" y="231.75" width="1.9" height="9.75" fill="#f23645"/>
<rect x="308.19" y="226.25" width="0.5" height="15.75" fill="#089981" fill-opacity="0.8"/>
<rect x="307.49" y="233.75" width="1.9" height="7.75" fill="#089981"/>
<rect x="311.09" y="208.20" width="0.5" height="25.80" fill="#089981" fill-opacity="0.8"/>
<rect x="310.39" y="216.00" width="1.9" height="17.75" fill="#089981"/>
<rect x="313.99" y="214.75" width="0.5" height="13.65" fill="#f23645" fill-opacity="0.8"/>
<rect x="313.29" y="216.25" width="1.9" height="10.75" fill="#f23645"/>
<rect x="316.89" y="213.20" width="0.5" height="14.30" fill="#089981" fill-opacity="0.8"/>
<rect x="316.19" y="217.00" width="1.9" height="10.00" fill="#089981"/>
<rect x="319.79" y="205.00" width="0.5" height="19.60" fill="#089981" fill-opacity="0.8"/>
<rect x="319.09" y="206.00" width="1.9" height="11.25" fill="#089981"/>
<rect x="322.69" y="184.00" width="0.5" height="25.00" fill="#089981" fill-opacity="0.8"/>
<rect x="321.99" y="187.00" width="1.9" height="19.60" fill="#089981"/>
<rect x="325.58" y="182.25" width="0.5" height="18.15" fill="#f23645" fill-opacity="0.8"/>
<rect x="324.88" y="187.00" width="1.9" height="8.40" fill="#f23645"/>
<rect x="328.48" y="189.00" width="0.5" height="38.75" fill="#f23645" fill-opacity="0.8"/>
<rect x="327.78" y="195.00" width="1.9" height="27.75" fill="#f23645"/>
<rect x="331.38" y="216.25" width="0.5" height="10.75" fill="#089981" fill-opacity="0.8"/>
<rect x="330.68" y="219.60" width="1.9" height="3.15" fill="#089981"/>
<rect x="334.28" y="206.00" width="0.5" height="14.50" fill="#089981" fill-opacity="0.8"/>
<rect x="333.58" y="206.60" width="1.9" height="13.40" fill="#089981"/>
<rect x="337.18" y="195.00" width="0.5" height="19.50" fill="#089981" fill-opacity="0.8"/>
<rect x="336.48" y="195.40" width="1.9" height="11.20" fill="#089981"/>
<rect x="340.08" y="195.00" width="0.5" height="12.25" fill="#f23645" fill-opacity="0.8"/>
<rect x="339.38" y="195.75" width="1.9" height="7.25" fill="#f23645"/>
<rect x="342.97" y="199.75" width="0.5" height="9.25" fill="#f23645" fill-opacity="0.8"/>
<rect x="342.27" y="203.00" width="1.9" height="5.60" fill="#f23645"/>
<rect x="345.87" y="192.25" width="0.5" height="18.45" fill="#089981" fill-opacity="0.8"/>
<rect x="345.17" y="202.50" width="1.9" height="5.70" fill="#089981"/>
<rect x="348.77" y="202.00" width="0.5" height="22.60" fill="#f23645" fill-opacity="0.8"/>
<rect x="348.07" y="202.50" width="1.9" height="17.50" fill="#f23645"/>
<rect x="351.67" y="205.50" width="0.5" height="15.00" fill="#089981" fill-opacity="0.8"/>
<rect x="350.97" y="206.00" width="1.9" height="14.00" fill="#089981"/>
<rect x="354.57" y="201.00" width="0.5" height="9.00" fill="#089981" fill-opacity="0.8"/>
<rect x="353.87" y="203.50" width="1.9" height="2.50" fill="#089981"/>
<rect x="357.47" y="196.60" width="0.5" height="16.40" fill="#089981" fill-opacity="0.8"/>
<rect x="356.77" y="200.40" width="1.9" height="3.10" fill="#089981"/>
<rect x="360.37" y="198.00" width="0.5" height="15.00" fill="#f23645" fill-opacity="0.8"/>
<rect x="359.67" y="200.75" width="1.9" height="12.25" fill="#f23645"/>
<rect x="363.26" y="201.00" width="0.5" height="26.75" fill="#f23645" fill-opacity="0.8"/>
<rect x="362.56" y="212.60" width="1.9" height="11.40" fill="#f23645"/>
<rect x="366.16" y="214.00" width="0.5" height="10.50" fill="#089981" fill-opacity="0.8"/>
<rect x="365.46" y="216.60" width="1.9" height="7.40" fill="#089981"/>
<rect x="369.06" y="205.40" width="0.5" height="12.60" fill="#089981" fill-opacity="0.8"/>
<rect x="368.36" y="209.00" width="1.9" height="8.25" fill="#089981"/>
<rect x="371.96" y="193.00" width="0.5" height="17.00" fill="#089981" fill-opacity="0.8"/>
<rect x="371.26" y="200.40" width="1.9" height="9.10" fill="#089981"/>
<rect x="374.86" y="191.00" width="0.5" height="12.00" fill="#089981" fill-opacity="0.8"/>
<rect x="374.16" y="198.50" width="1.9" height="2.25" fill="#089981"/>
<rect x="377.76" y="198.00" width="0.5" height="11.50" fill="#f23645" fill-opacity="0.8"/>
<rect x="377.06" y="198.25" width="1.9" height="10.75" fill="#f23645"/>
<rect x="380.66" y="185.40" width="0.5" height="28.10" fill="#089981" fill-opacity="0.8"/>
<rect x="379.96" y="190.00" width="1.9" height="19.00" fill="#089981"/>
<rect x="383.55" y="167.00" width="0.5" height="23.50" fill="#089981" fill-opacity="0.8"/>
<rect x="382.85" y="170.75" width="1.9" height="19.25" fill="#089981"/>
<rect x="386.45" y="162.00" width="0.5" height="20.25" fill="#089981" fill-opacity="0.8"/>
<rect x="385.75" y="162.50" width="1.9" height="8.25" fill="#089981"/>
<rect x="389.35" y="155.50" width="0.5" height="13.25" fill="#089981" fill-opacity="0.8"/>
<rect x="388.65" y="156.25" width="1.9" height="6.25" fill="#089981"/>
<rect x="392.25" y="155.50" width="0.5" height="8.25" fill="#f23645" fill-opacity="0.8"/>
<rect x="391.55" y="156.25" width="1.9" height="4.35" fill="#f23645"/>
<rect x="395.15" y="136.25" width="0.5" height="25.75" fill="#089981" fill-opacity="0.8"/>
<rect x="394.45" y="137.25" width="1.9" height="23.35" fill="#089981"/>
<rect x="398.05" y="131.25" width="0.5" height="26.75" fill="#f23645" fill-opacity="0.8"/>
<rect x="397.35" y="137.25" width="1.9" height="13.35" fill="#f23645"/>
<rect x="400.94" y="144.40" width="0.5" height="26.85" fill="#089981" fill-opacity="0.8"/>
<rect x="400.24" y="149.40" width="1.9" height="1.20" fill="#089981"/>
<rect x="403.84" y="136.00" width="0.5" height="14.00" fill="#089981" fill-opacity="0.8"/>
<rect x="403.14" y="141.00" width="1.9" height="8.75" fill="#089981"/>
<rect x="406.74" y="138.00" width="0.5" height="20.00" fill="#f23645" fill-opacity="0.8"/>
<rect x="406.04" y="141.00" width="1.9" height="16.50" fill="#f23645"/>
<rect x="409.64" y="145.00" width="0.5" height="18.75" fill="#089981" fill-opacity="0.8"/>
<rect x="408.94" y="156.60" width="1.9" height="0.90" fill="#089981"/>
<rect x="412.54" y="151.90" width="0.5" height="24.60" fill="#f23645" fill-opacity="0.8"/>
<rect x="411.84" y="156.90" width="1.9" height="19.10" fill="#f23645"/>
<rect x="415.44" y="170.80" width="0.5" height="33.95" fill="#f23645" fill-opacity="0.8"/>
<rect x="414.74" y="175.40" width="1.9" height="18.10" fill="#f23645"/>
<rect x="418.34" y="179.75" width="0.5" height="15.65" fill="#089981" fill-opacity="0.8"/>
<rect x="417.64" y="185.75" width="1.9" height="8.00" fill="#089981"/>
<rect x="421.23" y="178.30" width="0.5" height="13.95" fill="#f23645" fill-opacity="0.8"/>
<rect x="420.53" y="185.70" width="1.9" height="5.40" fill="#f23645"/>
<rect x="424.13" y="180.50" width="0.5" height="20.00" fill="#089981" fill-opacity="0.8"/>
<rect x="423.43" y="185.70" width="1.9" height="5.90" fill="#089981"/>
<rect x="427.03" y="175.50" width="0.5" height="34.40" fill="#f23645" fill-opacity="0.8"/>
<rect x="426.33" y="185.70" width="1.9" height="21.10" fill="#f23645"/>
<rect x="429.93" y="206.00" width="0.5" height="27.75" fill="#f23645" fill-opacity="0.8"/>
<rect x="429.23" y="206.80" width="1.9" height="13.80" fill="#f23645"/>
<rect x="432.83" y="220.00" width="0.5" height="25.00" fill="#f23645" fill-opacity="0.8"/>
<rect x="432.13" y="220.60" width="1.9" height="18.40" fill="#f23645"/>
<rect x="435.73" y="237.50" width="0.5" height="17.25" fill="#f23645" fill-opacity="0.8"/>
<rect x="435.03" y="238.50" width="1.9" height="2.50" fill="#f23645"/>
<rect x="438.62" y="229.00" width="0.5" height="12.50" fill="#089981" fill-opacity="0.8"/>
<rect x="437.93" y="230.00" width="1.9" height="11.00" fill="#089981"/>
<rect x="441.52" y="228.75" width="0.5" height="10.00" fill="#f23645" fill-opacity="0.8"/>
<rect x="440.82" y="230.00" width="1.9" height="5.60" fill="#f23645"/>
<rect x="444.42" y="224.40" width="0.5" height="21.20" fill="#089981" fill-opacity="0.8"/>
<rect x="443.72" y="227.50" width="1.9" height="8.10" fill="#089981"/>
<rect x="447.32" y="219.00" width="0.5" height="15.00" fill="#f23645" fill-opacity="0.8"/>
<rect x="446.62" y="227.25" width="1.9" height="6.50" fill="#f23645"/>
<rect x="450.22" y="227.00" width="0.5" height="21.75" fill="#089981" fill-opacity="0.8"/>
<rect x="449.52" y="228.00" width="1.9" height="5.75" fill="#089981"/>
<rect x="453.12" y="215.00" width="0.5" height="15.00" fill="#089981" fill-opacity="0.8"/>
<rect x="452.42" y="221.90" width="1.9" height="6.10" fill="#089981"/>
<rect x="456.02" y="216.90" width="0.5" height="7.50" fill="#f23645" fill-opacity="0.8"/>
<rect x="455.32" y="221.00" width="1.9" height="1.75" fill="#f23645"/>
<rect x="458.91" y="212.25" width="0.5" height="16.75" fill="#f23645" fill-opacity="0.8"/>
<rect x="458.21" y="221.90" width="1.9" height="6.10" fill="#f23645"/>
<rect x="461.81" y="225.00" width="0.5" height="14.00" fill="#f23645" fill-opacity="0.8"/>
<rect x="461.11" y="227.50" width="1.9" height="2.50" fill="#f23645"/>
<rect x="464.71" y="229.00" width="0.5" height="19.75" fill="#f23645" fill-opacity="0.8"/>
<rect x="464.01" y="229.75" width="1.9" height="13.75" fill="#f23645"/>
<rect x="467.61" y="220.60" width="0.5" height="56.65" fill="#f23645" fill-opacity="0.8"/>
<rect x="466.91" y="243.00" width="1.9" height="7.60" fill="#f23645"/>
<rect x="470.51" y="215.50" width="0.5" height="47.25" fill="#089981" fill-opacity="0.8"/>
<rect x="469.81" y="216.25" width="1.9" height="34.35" fill="#089981"/>
<rect x="473.41" y="184.40" width="0.5" height="43.10" fill="#089981" fill-opacity="0.8"/>
<rect x="472.71" y="193.00" width="1.9" height="23.50" fill="#089981"/>
<rect x="476.31" y="184.40" width="0.5" height="23.10" fill="#089981" fill-opacity="0.8"/>
<rect x="475.61" y="190.60" width="1.9" height="2.00" fill="#089981"/>
<rect x="479.20" y="188.00" width="0.5" height="24.50" fill="#f23645" fill-opacity="0.8"/>
<rect x="478.50" y="190.60" width="1.9" height="11.90" fill="#f23645"/>
<rect x="482.10" y="173.00" width="0.5" height="31.40" fill="#089981" fill-opacity="0.8"/>
<rect x="481.40" y="183.75" width="1.9" height="18.75" fill="#089981"/>
<rect x="485.00" y="174.40" width="0.5" height="15.00" fill="#089981" fill-opacity="0.8"/>
<rect x="484.30" y="182.25" width="1.9" height="2.15" fill="#089981"/>
<rect x="487.90" y="166.90" width="0.5" height="16.10" fill="#089981" fill-opacity="0.8"/>
<rect x="487.20" y="179.00" width="1.9" height="3.50" fill="#089981"/>
<rect x="490.80" y="165.00" width="0.5" height="16.25" fill="#089981" fill-opacity="0.8"/>
<rect x="490.10" y="177.90" width="1.9" height="1.85" fill="#089981"/>
<rect x="493.70" y="148.00" width="0.5" height="41.40" fill="#f23645" fill-opacity="0.8"/>
<rect x="493.00" y="177.90" width="1.9" height="9.35" fill="#f23645"/>
<rect x="496.59" y="179.00" width="0.5" height="21.00" fill="#089981" fill-opacity="0.8"/>
<rect x="495.89" y="186.60" width="1.9" height="0.90" fill="#089981"/>
<rect x="499.49" y="176.00" width="0.5" height="38.50" fill="#f23645" fill-opacity="0.8"/>
<rect x="498.79" y="186.90" width="1.9" height="27.10" fill="#f23645"/>
<rect x="502.39" y="200.00" width="0.5" height="26.25" fill="#f23645" fill-opacity="0.8"/>
<rect x="501.69" y="214.40" width="1.9" height="3.10" fill="#f23645"/>
<rect x="505.29" y="213.00" width="0.5" height="20.60" fill="#f23645" fill-opacity="0.8"/>
<rect x="504.59" y="217.25" width="1.9" height="9.25" fill="#f23645"/>
<rect x="508.19" y="218.00" width="0.5" height="17.60" fill="#f23645" fill-opacity="0.8"/>
<rect x="507.49" y="226.25" width="1.9" height="0.85" fill="#f23645"/>
<rect x="511.09" y="220.00" width="0.5" height="18.00" fill="#f23645" fill-opacity="0.8"/>
<rect x="510.39" y="226.25" width="1.9" height="0.95" fill="#f23645"/>
<rect x="513.99" y="205.50" width="0.5" height="24.50" fill="#089981" fill-opacity="0.8"/>
<rect x="513.29" y="206.25" width="1.9" height="21.00" fill="#089981"/>
<rect x="516.88" y="205.50" width="0.5" height="21.75" fill="#f23645" fill-opacity="0.8"/>
<rect x="516.18" y="206.25" width="1.9" height="9.65" fill="#f23645"/>
<rect x="519.78" y="181.25" width="0.5" height="34.75" fill="#089981" fill-opacity="0.8"/>
<rect x="519.08" y="193.50" width="1.9" height="22.40" fill="#089981"/>
<rect x="522.68" y="190.00" width="0.5" height="17.50" fill="#f23645" fill-opacity="0.8"/>
<rect x="521.98" y="193.50" width="1.9" height="9.00" fill="#f23645"/>
<rect x="525.58" y="189.00" width="0.5" height="15.75" fill="#089981" fill-opacity="0.8"/>
<rect x="524.88" y="190.00" width="1.9" height="12.50" fill="#089981"/>
<rect x="528.48" y="182.50" width="0.5" height="21.90" fill="#089981" fill-opacity="0.8"/>
<rect x="527.78" y="183.75" width="1.9" height="7.25" fill="#089981"/>
<rect x="531.38" y="146.90" width="0.5" height="37.10" fill="#089981" fill-opacity="0.8"/>
<rect x="530.68" y="156.90" width="1.9" height="26.85" fill="#089981"/>
<rect x="534.28" y="153.75" width="0.5" height="43.75" fill="#f23645" fill-opacity="0.8"/>
<rect x="533.58" y="156.90" width="1.9" height="13.70" fill="#f23645"/>
<rect x="537.17" y="86.00" width="0.5" height="85.00" fill="#089981" fill-opacity="0.8"/>
<rect x="536.47" y="137.50" width="1.9" height="33.10" fill="#089981"/>
<rect x="540.07" y="129.00" width="0.5" height="32.25" fill="#f23645" fill-opacity="0.8"/>
<rect x="539.37" y="137.50" width="1.9" height="5.00" fill="#f23645"/>
<rect x="542.97" y="141.00" width="0.5" height="21.00" fill="#f23645" fill-opacity="0.8"/>
<rect x="542.27" y="141.90" width="1.9" height="20.00" fill="#f23645"/>
<rect x="545.87" y="156.90" width="0.5" height="68.70" fill="#f23645" fill-opacity="0.8"/>
<rect x="545.17" y="161.90" width="1.9" height="50.00" fill="#f23645"/>
<rect x="548.77" y="208.00" width="0.5" height="109.75" fill="#f23645" fill-opacity="0.8"/>
<rect x="548.07" y="211.90" width="1.9" height="51.85" fill="#f23645"/>
<rect x="551.67" y="254.60" width="0.5" height="22.40" fill="#f23645" fill-opacity="0.8"/>
<rect x="550.97" y="263.75" width="1.9" height="4.65" fill="#f23645"/>
<rect x="554.56" y="243.00" width="0.5" height="28.50" fill="#089981" fill-opacity="0.8"/>
<rect x="553.86" y="258.00" width="1.9" height="10.40" fill="#089981"/>
<rect x="557.46" y="252.00" width="0.5" height="32.60" fill="#f23645" fill-opacity="0.8"/>
<rect x="556.76" y="258.00" width="1.9" height="24.50" fill="#f23645"/>
<rect x="560.36" y="267.00" width="0.5" height="17.60" fill="#089981" fill-opacity="0.8"/>
<rect x="559.66" y="280.00" width="1.9" height="3.00" fill="#089981"/>
<rect x="563.26" y="272.00" width="0.5" height="31.75" fill="#f23645" fill-opacity="0.8"/>
<rect x="562.56" y="280.00" width="1.9" height="1.25" fill="#f23645"/>
<rect x="566.16" y="272.00" width="0.5" height="20.50" fill="#089981" fill-opacity="0.8"/>
<rect x="565.46" y="276.25" width="1.9" height="5.25" fill="#089981"/>
<rect x="569.06" y="265.25" width="0.5" height="16.25" fill="#f23645" fill-opacity="0.8"/>
<rect x="568.36" y="276.25" width="1.9" height="1.25" fill="#f23645"/>
<rect x="571.96" y="264.00" width="0.5" height="20.00" fill="#089981" fill-opacity="0.8"/>
<rect x="571.26" y="273.00" width="1.9" height="4.50" fill="#089981"/>
<rect x="574.85" y="248.40" width="0.5" height="27.60" fill="#f23645" fill-opacity="0.8"/>
<rect x="574.15" y="273.00" width="1.9" height="1.00" fill="#f23645"/>
<rect x="577.75" y="233.00" width="0.5" height="40.50" fill="#089981" fill-opacity="0.8"/>
<rect x="577.05" y="255.90" width="1.9" height="17.50" fill="#089981"/>
<rect x="580.65" y="241.00" width="0.5" height="15.00" fill="#089981" fill-opacity="0.8"/>
<rect x="579.95" y="243.75" width="1.9" height="12.15" fill="#089981"/>
</g>
<rect x="618.5" y="134.4" width="119" height="120.85" fill="rgba(8,153,129,0.2)"/>
<rect x="618.5" y="255.25" width="119" height="46.3" fill="rgba(242,54,69,0.2)"/>
<line x1="618.5" y1="255.25" x2="737.5" y2="255.25" stroke="#8a8a8a" stroke-opacity="0.5" stroke-width="0.5"/>
<line x1="128.2" y1="134.45" x2="989.5" y2="134.45" stroke="#2e2e2e" stroke-width="0.85"/>
<line x1="195.2" y1="287.08" x2="989.5" y2="287.08" stroke="#333" stroke-width="1.05"/>
<line x1="618.5" y1="206.4" x2="989.8" y2="206.4" stroke="#5a5a5a" stroke-width="0.55" stroke-dasharray="2.3 2.3"/>
<rect x="970.6" y="202" width="16.4" height="9" fill="#fff"/>
<text x="980.3" y="208.2" font-size="6.5" font-style="italic" font-weight="bold" text-anchor="middle" fill="#484848">TP1</text>
<path d="M586 287 C649.1 263.5 690.9 205.9 696.3 139" fill="none" stroke="#2e3a38" stroke-width="0.7"/>
<path d="M693.2 141.5 L696.3 139 L699 142.2" fill="none" stroke="#2e3a38" stroke-width="0.7"/>
<path d="M125.85 118.50000000000001 H131.15 V124.60000000000001 H133.6 L128.5 130.3 L123.4 124.60000000000001 H125.85 Z" fill="#cc2f3c"/>
<path d="M395.45000000000005 114.7 H400.75 V120.8 H403.20000000000005 L398.1 126.5 L393.0 120.8 H395.45000000000005 Z" fill="#cc2f3c"/>
<path d="M534.85 72.95 H540.15 V79.05 H542.6 L537.5 84.75 L532.4 79.05 H534.85 Z" fill="#cc2f3c"/>
<path d="M192.6 302.1 H198.20000000000002 V296.6 H200.4 L195.4 290.6 L190.4 296.6 H192.6 Z" fill="#089981"/>
<path d="M241.79999999999998 303.0 H247.4 V297.5 H249.6 L244.6 291.5 L239.6 297.5 H241.79999999999998 Z" fill="#089981"/>
<path d="M546.2 333.5 H551.8 V328 H554 L549 322 L544 328 H546.2 Z" fill="#089981"/>
<path d="M560.6 320.25 H566.1999999999999 V314.75 H568.4 L563.4 308.75 L558.4 314.75 H560.6 Z" fill="#089981"/>
<g transform="translate(580.75,364.75)"><circle r="5.45" fill="#fff" stroke="#a83fbb" stroke-width="0.9"/><path d="M1.1 -3.5 L-2.4 0.5 H-0.3 L-1.1 3.5 L2.4 -0.5 H0.3 Z" fill="#a030b4"/></g>
<g font-size="6.7" fill="#2e2e2e">
<text x="993.9" y="8.85" textLength="25.8" lengthAdjust="spacingAndGlyphs">0.028000</text>
<text x="993.9" y="33.77" textLength="25.8" lengthAdjust="spacingAndGlyphs">0.027500</text>
<text x="993.9" y="58.69" textLength="25.8" lengthAdjust="spacingAndGlyphs">0.027000</text>
<text x="993.9" y="83.61" textLength="25.8" lengthAdjust="spacingAndGlyphs">0.026500</text>
<text x="993.9" y="108.53" textLength="25.8" lengthAdjust="spacingAndGlyphs">0.026000</text>
<text x="993.9" y="133.45" textLength="25.8" lengthAdjust="spacingAndGlyphs">0.025500</text>
<text x="993.9" y="158.37" textLength="25.8" lengthAdjust="spacingAndGlyphs">0.025000</text>
<text x="993.9" y="183.29" textLength="25.8" lengthAdjust="spacingAndGlyphs">0.024500</text>
<text x="993.9" y="208.21" textLength="25.8" lengthAdjust="spacingAndGlyphs">0.024000</text>
<text x="993.9" y="233.13" textLength="25.8" lengthAdjust="spacingAndGlyphs">0.023500</text>
<text x="993.9" y="258.05" textLength="25.8" lengthAdjust="spacingAndGlyphs">0.023000</text>
<text x="993.9" y="282.97" textLength="25.8" lengthAdjust="spacingAndGlyphs">0.022500</text>
<text x="993.9" y="307.89" textLength="25.8" lengthAdjust="spacingAndGlyphs">0.022000</text>
<text x="993.9" y="332.81" textLength="25.8" lengthAdjust="spacingAndGlyphs">0.021500</text>
<text x="993.9" y="357.73" textLength="25.8" lengthAdjust="spacingAndGlyphs">0.021000</text>
<text x="994" y="382.9" textLength="15.7" lengthAdjust="spacingAndGlyphs">200 M</text>
<text x="994" y="402.2" textLength="15.7" lengthAdjust="spacingAndGlyphs">100 M</text>
</g>
<rect x="989.8" y="129.9" width="32.80000000000007" height="8.799999999999983" rx="0.8" fill="#2b2b2b"/>
<text x="994" y="136.8" font-size="7" fill="#fff" stroke="#fff" stroke-width="0.22" textLength="26.1" lengthAdjust="spacingAndGlyphs">0.025429</text>
<rect x="989.8" y="201.9" width="32.80000000000007" height="9.0" rx="0.8" fill="#2b2b2b"/>
<text x="994" y="208.9" font-size="7" fill="#fff" stroke="#fff" stroke-width="0.22" textLength="26.1" lengthAdjust="spacingAndGlyphs">0.023990</text>
<rect x="989.8" y="239.8" width="32.80000000000007" height="16.19999999999999" rx="0.8" fill="#089981"/>
<text x="994" y="246.8" font-size="7" fill="#fff" stroke="#fff" stroke-width="0.22" textLength="26.1" lengthAdjust="spacingAndGlyphs">0.023234</text>
<text x="994.1" y="253.9" font-size="6.4" fill="#dcf3ee" textLength="24.4" lengthAdjust="spacingAndGlyphs">02:22:06</text>
<rect x="989.8" y="283" width="32.80000000000007" height="8.600000000000023" rx="0.8" fill="#2b2b2b"/>
<text x="994" y="289.8" font-size="7" fill="#fff" stroke="#fff" stroke-width="0.22" textLength="26.1" lengthAdjust="spacingAndGlyphs">0.022371</text>
<rect x="989.8" y="401.1" width="27.5" height="8.799999999999955" rx="0.8" fill="#2962ff"/>
<text x="994.3" y="407.9" font-size="6.6" fill="#fff" stroke="#fff" stroke-width="0.18" textLength="22" lengthAdjust="spacingAndGlyphs">47.85 M</text>
<rect x="989.8" y="409.9" width="27.5" height="8.900000000000034" rx="0.8" fill="#1a9c87"/>
<text x="994.3" y="416.7" font-size="6.6" fill="#fff" stroke="#fff" stroke-width="0.18" textLength="22" lengthAdjust="spacingAndGlyphs">10.55 M</text>
<g font-size="6.8" fill="#1c1c1c">
<text x="1.08" y="428.6" textLength="6.24" lengthAdjust="spacingAndGlyphs">22</text>
<text x="35.85" y="428.6" textLength="6.24" lengthAdjust="spacingAndGlyphs">24</text>
<text x="70.62" y="428.6" textLength="6.24" lengthAdjust="spacingAndGlyphs">26</text>
<text x="105.39" y="428.6" textLength="6.24" lengthAdjust="spacingAndGlyphs">28</text>
<text x="140.16" y="428.6" textLength="6.24" lengthAdjust="spacingAndGlyphs">30</text>
<text x="173.05" y="428.6" font-weight="bold" textLength="10.00" lengthAdjust="spacingAndGlyphs">Sep</text>
<text x="211.26" y="428.6" textLength="3.12" lengthAdjust="spacingAndGlyphs">3</text>
<text x="246.03" y="428.6" textLength="3.12" lengthAdjust="spacingAndGlyphs">5</text>
<text x="280.80" y="428.6" textLength="3.12" lengthAdjust="spacingAndGlyphs">7</text>
<text x="315.57" y="428.6" textLength="3.12" lengthAdjust="spacingAndGlyphs">9</text>
<text x="348.78" y="428.6" textLength="6.24" lengthAdjust="spacingAndGlyphs">11</text>
<text x="383.55" y="428.6" textLength="6.24" lengthAdjust="spacingAndGlyphs">13</text>
<text x="418.32" y="428.6" textLength="6.24" lengthAdjust="spacingAndGlyphs">15</text>
<text x="453.09" y="428.6" textLength="6.24" lengthAdjust="spacingAndGlyphs">17</text>
<text x="487.86" y="428.6" textLength="6.24" lengthAdjust="spacingAndGlyphs">19</text>
<text x="522.63" y="428.6" textLength="6.24" lengthAdjust="spacingAndGlyphs">21</text>
<text x="557.40" y="428.6" textLength="6.24" lengthAdjust="spacingAndGlyphs">23</text>
<text x="592.17" y="428.6" textLength="6.24" lengthAdjust="spacingAndGlyphs">25</text>
<text x="626.94" y="428.6" textLength="6.24" lengthAdjust="spacingAndGlyphs">27</text>
<text x="661.71" y="428.6" textLength="6.24" lengthAdjust="spacingAndGlyphs">29</text>
<text x="694.60" y="428.6" font-weight="bold" textLength="10.00" lengthAdjust="spacingAndGlyphs">Oct</text>
<text x="732.81" y="428.6" textLength="3.12" lengthAdjust="spacingAndGlyphs">3</text>
<text x="767.58" y="428.6" textLength="3.12" lengthAdjust="spacingAndGlyphs">5</text>
<text x="802.35" y="428.6" textLength="3.12" lengthAdjust="spacingAndGlyphs">7</text>
<text x="837.12" y="428.6" textLength="3.12" lengthAdjust="spacingAndGlyphs">9</text>
<text x="870.33" y="428.6" textLength="6.24" lengthAdjust="spacingAndGlyphs">11</text>
<text x="905.10" y="428.6" textLength="6.24" lengthAdjust="spacingAndGlyphs">13</text>
<text x="939.87" y="428.6" textLength="6.24" lengthAdjust="spacingAndGlyphs">15</text>
<text x="974.64" y="428.6" textLength="6.24" lengthAdjust="spacingAndGlyphs">17</text>
</g>
<g transform="translate(1007.7,426.2)" fill="none" stroke="#2a2a2a" stroke-width="0.8" stroke-linejoin="round"><path d="M-3.6 0 L-1.8 -3.1 H1.8 L3.6 0 L1.8 3.1 H-1.8 Z"/><circle r="1.35"/></g>
<g fill="#131313"><path d="M4.7 402.95 H11.5 V410.7 H7.8 V406.5 H4.7 Z"/><circle cx="13.6" cy="404.55" r="1.3"/><path d="M16.25 402.95 H20.25 L18.1 410.7 H14.1 Z"/></g>
<text x="24.1" y="410.8" font-size="10.7" font-weight="bold" fill="#131313" textLength="63.8" lengthAdjust="spacingAndGlyphs">TradingView</text>
</svg></body></html>
